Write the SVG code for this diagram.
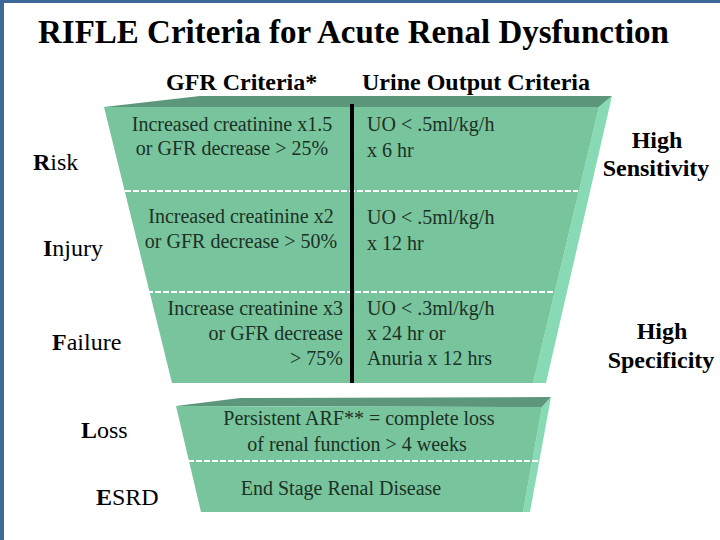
<svg xmlns="http://www.w3.org/2000/svg" width="720" height="540" viewBox="0 0 720 540">
<style>
.t{font-family:"Liberation Serif","Times New Roman",serif;}
.title{font-size:33px;font-weight:bold;fill:#000;}
.hdr{font-size:24px;font-weight:bold;fill:#000;}
.lbl{font-size:24px;fill:#000;}
.b{font-weight:bold;}
.cell{font-size:20px;fill:#1d3125;}
.front{fill:#77c49d;}
.topf{fill:#5c967b;}
.side{fill:#88dab5;}
.dash{stroke:#ffffff;stroke-width:2;stroke-dasharray:6 2;fill:none;}
</style>
<rect x="0" y="0" width="720" height="540" fill="#ffffff"/>
<rect x="0" y="0" width="720" height="3" fill="#3d6898"/>
<rect x="0" y="0" width="4" height="540" fill="#3d6898"/>

<text class="t title" x="38" y="43">RIFLE Criteria for Acute Renal Dysfunction</text>
<text class="t hdr" x="166" y="90">GFR Criteria*</text>
<text class="t hdr" x="362" y="90">Urine Output Criteria</text>

<g id="funnel-upper">
<polygon class="topf" points="104,107 200,96 612,96 599,107"/>
<polygon class="side" points="612,96 546,383 533,383 599,107"/>
<polygon class="front" points="104,107 599,107 533,383 172,383"/>
</g>

<g id="funnel-lower">
<polygon class="topf" points="176,406 240,398 551,397 542,407"/>
<polygon class="side" points="551,397 530,512 523,512 542,407"/>
<polygon class="front" points="176,406 542,407 523,512 201,512"/>
</g>

<g id="connectors">
<line class="dash" x1="125" y1="191" x2="578" y2="191"/>
<line class="dash" x1="147" y1="292" x2="554" y2="292"/>
<line class="dash" x1="188" y1="461" x2="538" y2="461"/>
<rect x="350" y="104" width="4" height="279" fill="#000"/>
</g>

<g id="risk">
<text class="t lbl" x="33" y="170"><tspan class="b">R</tspan>isk</text>
<text class="t cell" x="232" y="131" text-anchor="middle">Increased creatinine x1.5</text>
<text class="t cell" x="232" y="155" text-anchor="middle">or GFR decrease &gt; 25%</text>
<text class="t cell" x="367" y="131">UO &lt; .5ml/kg/h</text>
<text class="t cell" x="367" y="157">x 6 hr</text>
</g>

<g id="injury">
<text class="t lbl" x="43" y="256"><tspan class="b">I</tspan>njury</text>
<text class="t cell" x="241" y="223" text-anchor="middle">Increased creatinine x2</text>
<text class="t cell" x="241" y="248" text-anchor="middle">or GFR decrease &gt; 50%</text>
<text class="t cell" x="367" y="224">UO &lt; .5ml/kg/h</text>
<text class="t cell" x="367" y="250">x 12 hr</text>
</g>

<g id="failure">
<text class="t lbl" x="52" y="350"><tspan class="b">F</tspan>ailure</text>
<text class="t cell" x="343" y="315" text-anchor="end">Increase creatinine x3</text>
<text class="t cell" x="343" y="340" text-anchor="end">or GFR decrease</text>
<text class="t cell" x="343" y="365" text-anchor="end">&gt; 75%</text>
<text class="t cell" x="367" y="315">UO &lt; .3ml/kg/h</text>
<text class="t cell" x="367" y="340">x 24 hr or</text>
<text class="t cell" x="367" y="365">Anuria x 12 hrs</text>
</g>

<g id="loss">
<text class="t lbl" x="81" y="438"><tspan class="b">L</tspan>oss</text>
<text class="t cell" x="359" y="425" text-anchor="middle">Persistent ARF** = complete loss</text>
<text class="t cell" x="357" y="451" text-anchor="middle">of renal function &gt; 4 weeks</text>
</g>

<g id="esrd">
<text class="t lbl" x="96" y="505"><tspan class="b">E</tspan>SRD</text>
<text class="t cell" x="341" y="495" text-anchor="middle">End Stage Renal Disease</text>
</g>

<g id="sensitivity">
<text class="t hdr" x="657" y="148" text-anchor="middle">High</text>
<text class="t hdr" x="656" y="176" text-anchor="middle">Sensitivity</text>
</g>

<g id="specificity">
<text class="t hdr" x="662" y="339" text-anchor="middle">High</text>
<text class="t hdr" x="661" y="368" text-anchor="middle">Specificity</text>
</g>
</svg>
